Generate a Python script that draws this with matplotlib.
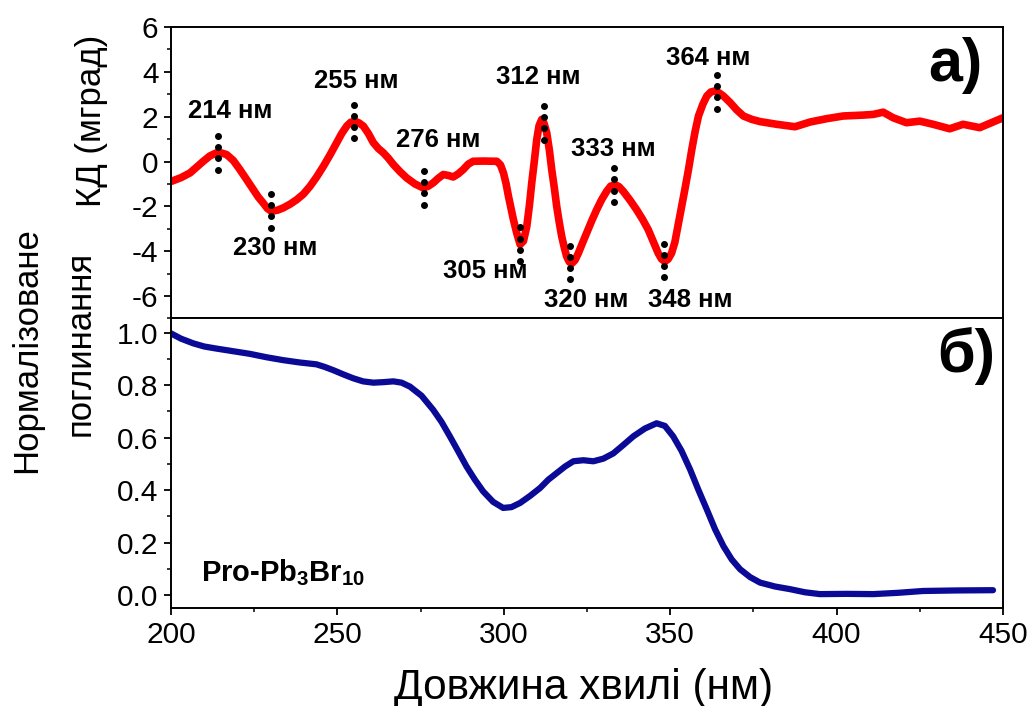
#Import resource library
import numpy as np
import matplotlib
matplotlib.use('Agg')
import matplotlib.pyplot as plt
from matplotlib.ticker import MultipleLocator, FormatStrFormatter
from matplotlib import font_manager

plt.rcParams['font.family'] = ['Liberation Sans', 'DejaVu Sans']
plt.rcParams['axes.unicode_minus'] = False
plt.rcParams['mathtext.fontset'] = 'custom'
plt.rcParams['mathtext.rm'] = 'Liberation Sans'
plt.rcParams['mathtext.bf'] = 'Liberation Sans:bold'

#Narrow face for the axis titles, if there is one
names = set(f.name for f in font_manager.fontManager.ttflist)
narrow = 'Liberation Sans Narrow' if 'Liberation Sans Narrow' in names else None

#CD spectrum (mdeg)
cd_wl = [200.2, 203.0, 205.7, 209.7, 211.7, 213.7, 215.2, 216.7, 218.7, 220.7,
         222.7, 224.7, 226.2, 227.7, 229.0, 230.2, 232.0, 233.7, 235.8, 237.8,
         239.8, 241.8, 243.8, 245.8, 247.8, 249.8, 251.3, 252.8, 254.0, 255.3,
         256.5, 257.8, 259.3, 260.8, 262.3, 263.8, 265.3, 266.8, 268.8, 270.8,
         273.3, 275.8, 277.3, 278.8, 280.3, 281.8, 283.3, 284.8, 286.3, 287.8,
         289.3, 290.8, 293.8, 297.9, 299.0, 299.9, 300.7, 301.4, 302.2, 302.9,
         303.9, 304.9, 305.9, 306.9, 307.7, 308.4, 309.2, 309.9, 310.6, 311.4,
         312.1, 312.9, 313.7, 314.4, 315.2, 315.9, 316.7, 317.4, 318.2, 318.9,
         319.7, 320.4, 321.4, 322.4, 323.6, 324.9, 326.4, 327.9, 329.4, 330.9,
         332.1, 333.4, 334.6, 335.9, 337.9, 339.9, 341.7, 343.4, 345.0, 346.4,
         347.4, 348.4, 349.4, 350.4, 351.4, 352.3, 353.3, 354.4, 355.5, 356.5,
         357.5, 358.5, 359.8, 361.0, 362.2, 363.5, 364.8, 366.0, 368.0, 370.0,
         372.0, 374.5, 377.0, 382.0, 387.5, 392.0, 397.0, 402.0, 408.0, 411.0,
         414.0, 417.0, 421.0, 425.0, 429.0, 434.0, 438.0, 443.0, 447.0, 450.0]
cd_val = [-0.88, -0.72, -0.51, 0.01, 0.25, 0.39, 0.38, 0.31, 0.05, -0.36,
          -0.80, -1.25, -1.58, -1.85, -2.10, -2.22, -2.17, -2.07, -1.90, -1.70,
          -1.45, -1.10, -0.68, -0.21, 0.30, 0.84, 1.25, 1.58, 1.75, 1.80,
          1.72, 1.58, 1.25, 0.84, 0.58, 0.39, 0.15, -0.13, -0.45, -0.73,
          -1.00, -1.18, -1.10, -0.95, -0.75, -0.58, -0.62, -0.69, -0.55, -0.36,
          -0.12, 0.01, 0.02, 0.01, -0.15, -0.51, -1.00, -1.55, -2.10, -2.60,
          -3.20, -3.70, -3.55, -2.90, -1.95, -0.95, 0.05, 0.98, 1.60, 1.88,
          1.70, 1.28, 0.50, -0.36, -1.20, -2.00, -2.75, -3.34, -3.85, -4.24,
          -4.48, -4.55, -4.40, -4.09, -3.65, -3.19, -2.65, -2.15, -1.70, -1.33,
          -1.10, -1.03, -1.12, -1.33, -1.72, -2.15, -2.58, -3.04, -3.60, -4.09,
          -4.35, -4.46, -4.35, -4.09, -3.60, -2.90, -2.10, -1.25, -0.35, 0.54,
          1.35, 2.03, 2.55, 2.92, 3.10, 3.15, 3.05, 2.92, 2.63, 2.30,
          2.03, 1.88, 1.78, 1.66, 1.55, 1.76, 1.91, 2.03, 2.07, 2.10,
          2.20, 1.95, 1.73, 1.80, 1.66, 1.46, 1.66, 1.51, 1.76, 1.95]

#Normalised absorbance
abs_wl = [200.0, 203.0, 206.7, 210.0, 213.7, 218.7, 223.7, 228.7, 233.7, 238.7,
          243.7, 246.2, 248.7, 251.7, 254.7, 257.7, 260.8, 263.8, 266.8, 269.3,
          271.8, 275.3, 278.8, 281.3, 283.8, 286.3, 288.8, 291.3, 293.8, 296.8,
          299.8, 302.3, 304.9, 307.9, 310.9, 313.4, 315.9, 318.4, 320.9, 323.9,
          326.9, 329.9, 332.9, 335.9, 338.9, 342.4, 345.9, 348.4, 350.9, 353.4,
          356.0, 358.5, 361.0, 363.5, 366.0, 368.5, 371.0, 374.0, 377.0, 381.5,
          386.0, 390.5, 395.0, 403.0, 411.0, 418.5, 426.0, 436.0, 447.0]
abs_val = [0.998, 0.978, 0.960, 0.948, 0.940, 0.930, 0.920, 0.907, 0.896, 0.887,
           0.880, 0.870, 0.858, 0.842, 0.827, 0.815, 0.810, 0.812, 0.815, 0.810,
           0.795, 0.760, 0.706, 0.660, 0.605, 0.548, 0.490, 0.440, 0.395, 0.355,
           0.332, 0.335, 0.351, 0.378, 0.408, 0.440, 0.465, 0.490, 0.510, 0.514,
           0.510, 0.520, 0.540, 0.572, 0.605, 0.635, 0.655, 0.645, 0.605, 0.550,
           0.478, 0.400, 0.326, 0.250, 0.186, 0.135, 0.098, 0.068, 0.047, 0.032,
           0.022, 0.010, 0.003, 0.004, 0.003, 0.008, 0.015, 0.017, 0.018]

#Peak labels
peaks = [214, 230, 255, 276, 305, 312, 320, 333, 348, 364]
peak_text = [str(p) + ' нм' for p in peaks]
label_x = [217.7, 231.2, 255.8, 280.3, 294.4, 310.3, 324.9, 332.9, 356.0, 361.5]
label_y = [2.25, -3.85, 3.6, 0.98, -4.9, 3.76, -6.17, 0.57, -6.17, 4.6]

fig = plt.figure(figsize=(10.32, 7.06), dpi=100)
ax1 = fig.add_axes([0.1657, 0.5489, 0.8062, 0.4129])
ax2 = fig.add_axes([0.1657, 0.1388, 0.8062, 0.4101], sharex=ax1)

ax1.plot(cd_wl, cd_val, color='#ff0000', lw=5.5, solid_joinstyle='round',
         solid_capstyle='round', zorder=2)
ax2.plot(abs_wl, abs_val, color='#0a0a96', lw=4.5, solid_joinstyle='round',
         solid_capstyle='round')

#Dotted markers and labels for each peak
for p, t, lx, ly in zip(peaks, peak_text, label_x, label_y):
    yc = np.interp(p, cd_wl, cd_val)
    ax1.plot([p] * 4, yc + np.array([-0.75, -0.25, 0.25, 0.75]), 'o',
             color='black', ms=4, zorder=3)
    ax1.text(lx, ly, t, ha='center', va='center', fontsize=18.5,
             fontweight='bold')

ax1.text(435.7, 4.26, 'а)', ha='center', va='center', fontsize=44,
         fontweight='bold')
ax2.text(439, 0.91, 'б)', ha='center', va='center', fontsize=44,
         fontweight='bold')
ax2.text(209, 0.085, r'Pro-Pb$_\mathbf{3}$Br$_\mathbf{10}$', ha='left',
         va='center', fontsize=21, fontweight='bold')

ax1.set_xlim(200, 450)
ax1.set_ylim(-7, 6)
ax2.set_ylim(-0.05, 1.055)
ax1.yaxis.set_major_locator(MultipleLocator(2))
ax1.yaxis.set_minor_locator(MultipleLocator(1))
ax2.yaxis.set_major_locator(MultipleLocator(0.2))
ax2.yaxis.set_minor_locator(MultipleLocator(0.1))
ax2.xaxis.set_major_locator(MultipleLocator(50))
ax2.xaxis.set_minor_locator(MultipleLocator(25))
ax2.yaxis.set_major_formatter(FormatStrFormatter('%.1f'))

for ax in (ax1, ax2):
    for s in ax.spines.values():
        s.set_linewidth(1.4)
    ax.tick_params(which='major', direction='out', length=5, width=1.3,
                   labelsize=21.5, pad=4)
    ax.tick_params(which='minor', direction='out', length=3, width=1.1)
ax1.tick_params(axis='x', which='both', bottom=False, labelbottom=False)

#Axis titles
if narrow:
    yfam, ysize = [narrow, 'DejaVu Sans'], 29
else:
    yfam, ysize = ['Liberation Sans', 'DejaVu Sans'], 25
fig.text(0.089, 1 - 121 / 706, 'КД (мград)', rotation=90, ha='center',
         va='center', fontsize=ysize, family=yfam)
fig.text(0.026, 1 - 350 / 706, 'Нормалізоване', rotation=90, ha='center',
         va='center', fontsize=ysize, family=yfam)
fig.text(0.078, 1 - 343 / 706, 'поглинання', rotation=90, ha='center',
         va='center', fontsize=ysize, family=yfam)
fig.text(0.5655, 1 - 688 / 706, 'Довжина хвилі (нм)', ha='center',
         va='center', fontsize=30.5)

fig.savefig('out.png', dpi=100)
